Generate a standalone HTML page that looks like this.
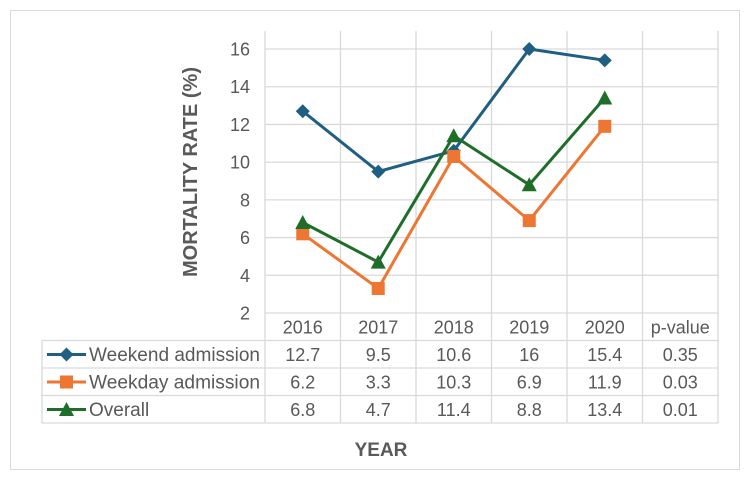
<!DOCTYPE html>
<html><head><meta charset="utf-8"><style>
body{margin:0;background:#fff;}
svg{display:block;font-family:"Liberation Sans",Arial,sans-serif;}
</style></head><body>
<svg id="chart" width="750" height="481">
<rect x="10.5" y="10.5" width="729" height="459" fill="#fff" stroke="#d9d9d9"/>
<g id="grid"></g>
<g id="table"></g>
<g id="series"></g>
<text x="0" y="0" transform="translate(197,172) rotate(-90)" text-anchor="middle" font-size="20" font-weight="bold" fill="#595959">MORTALITY RATE (%)</text>
<text x="381" y="456" text-anchor="middle" font-size="19" font-weight="bold" fill="#595959">YEAR</text>
</svg>
<script>
const categories=["2016","2017","2018","2019","2020"];
const weekend=[12.7,9.5,10.6,16,15.4];
const weekday=[6.2,3.3,10.3,6.9,11.9];
const overall=[6.8,4.7,11.4,8.8,13.4];
const pvalues=["0.35","0.03","0.01"];
const yTicks=[2,4,6,8,10,12,14,16];
const seriesNames=["Weekend admission","Weekday admission","Overall"];
const colors=["#1f5f82","#ed7633","#1e6e2a"];
const NS="http://www.w3.org/2000/svg";
const L=265,CW=75.5,TOP=31,Y0=313,FS=18;
function y(v){return Y0-(v-2)*((Y0-49)/14);}
function x(i){return L+CW*(i+0.5);}
function mk(tag,a,parent){const e=document.createElementNS(NS,tag);for(const k in a)e.setAttribute(k,a[k]);parent.appendChild(e);return e;}
const grid=document.getElementById('grid'),tbl=document.getElementById('table'),ser=document.getElementById('series');
const R=L+CW*6;
yTicks.forEach(v=>{
 if(v>2){const g=mk('line',{x1:L,x2:R,y1:y(v),y2:y(v),stroke:'#d9d9d9','stroke-width':1.3},grid);
 
 }
 const t=mk('text',{x:250,y:y(v)+6.5,'text-anchor':'end','font-size':FS,fill:'#595959'},grid);t.textContent=v;
 
 
});
for(let i=0;i<=6;i++){const l=mk('line',{x1:L+CW*i,x2:L+CW*i,y1:TOP,y2:Y0,stroke:'#d9d9d9','stroke-width':1.3},grid);
 
 }
const RH=27.5,TL=42,rows=[weekend,weekday,overall];
mk('line',{x1:L,x2:R,y1:Y0,y2:Y0,stroke:'#d9d9d9','stroke-width':1.3},tbl);
for(let r=1;r<=4;r++)mk('line',{x1:TL,x2:R,y1:Y0+RH*r,y2:Y0+RH*r,stroke:'#d9d9d9','stroke-width':1.3},tbl);
mk('line',{x1:TL,x2:TL,y1:Y0+RH,y2:Y0+RH*4,stroke:'#d9d9d9','stroke-width':1.3},tbl);
for(let i=0;i<=6;i++)mk('line',{x1:L+CW*i,x2:L+CW*i,y1:Y0,y2:Y0+RH*4,stroke:'#d9d9d9','stroke-width':1.3},tbl);
categories.concat(["p-value"]).forEach((c,i)=>{const t=mk('text',{x:x(i),y:Y0+20.5,'text-anchor':'middle','font-size':FS,fill:'#595959'},tbl);t.textContent=c;
 
 });
rows.forEach((row,r)=>{
 const cy=Y0+RH*(r+1)+20.5;
 row.forEach((v,i)=>{const t=mk('text',{x:x(i),y:cy,'text-anchor':'middle','font-size':FS,fill:'#595959'},tbl);t.textContent=v;
  
  });
 const p=mk('text',{x:x(5),y:cy,'text-anchor':'middle','font-size':FS,fill:'#595959'},tbl);p.textContent=pvalues[r];
 
 
 const ly=Y0+RH*(r+1)+14;
 mk('line',{x1:47,x2:86,y1:ly,y2:ly,stroke:colors[r],'stroke-width':3},tbl);
 marker(r,66.5,ly,tbl,1);
 const n=mk('text',{x:89,y:cy,'font-size':19,fill:'#595959','textLength':171,'lengthAdjust':'spacingAndGlyphs'},tbl);n.textContent=seriesNames[r];
 if(r===2){n.removeAttribute('textLength');}
 
 
});
function marker(r,cx,cy,p,s){s=s||1;let m;
 if(r===0)m=mk('polygon',{points:`${cx},${cy-7*s} ${cx+7*s},${cy} ${cx},${cy+7*s} ${cx-7*s},${cy}`,fill:colors[r]},p);
 else if(r===1)m=mk('rect',{x:cx-6.5*s,y:cy-6.5*s,width:13*s,height:13*s,fill:colors[r]},p);
 else m=mk('polygon',{points:`${cx},${cy-7.5*s} ${cx+7.5*s},${cy+6.5*s} ${cx-7.5*s},${cy+6.5*s}`,fill:colors[r]},p);
 return m;}
rows.forEach((row,r)=>{
 const pl=mk('polyline',{points:row.map((v,i)=>x(i)+','+y(v)).join(' '),fill:'none',stroke:colors[r],'stroke-width':3},ser);
 
 
 row.forEach((v,i)=>{const m=marker(r,x(i),y(v),ser);
  
  });
});
</script>
</body></html>
